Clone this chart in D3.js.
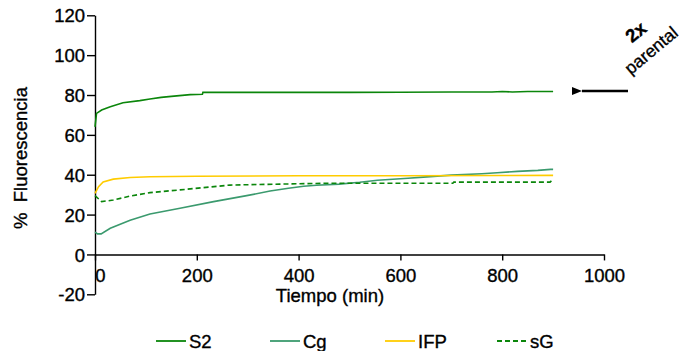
<!DOCTYPE html>
<html>
<head>
<meta charset="utf-8">
<script src="https://cdn.jsdelivr.net/npm/d3@7"></script>
<style>
  body { margin: 0; background: #fff; }
  svg text { font-family: "Liberation Sans", Arial, sans-serif; fill: #000; stroke: #000; stroke-width: 0.35px; }
</style>
</head>
<body>
<script>
/******************************************************************************/
/* DATA                                                                       */
/******************************************************************************/
var seriesNames = ['S2', 'Cg', 'IFP', 'sG'];

var s2Time = [0, 3, 13, 30, 55, 88, 108, 130, 150, 187, 211, 212, 300, 400, 500, 600, 700, 780, 800, 820, 850, 900];
var s2Vals = [64, 70.8, 72.5, 74.1, 76.1, 77.2, 78, 78.8, 79.3, 80.2, 80.4, 81.3, 81.3, 81.3, 81.3, 81.4, 81.5, 81.5, 81.8, 81.5, 81.8, 81.8];

var cgTime = [0, 5, 12, 30, 69, 108, 167, 233, 298, 344, 380, 410, 435, 480, 520, 555, 585, 615, 645, 700, 760, 790, 830, 870, 895, 900];
var cgVals = [11.2, 10.3, 10.3, 13.1, 17.2, 20.3, 23.2, 26.5, 29.5, 31.8, 33.2, 34.2, 34.7, 35.3, 36.2, 37.2, 37.7, 38.2, 38.8, 39.8, 40.5, 41, 41.7, 42.2, 42.7, 42.7];

var ifpTime = [0, 7, 16, 36, 69, 108, 200, 400, 600, 800, 900];
var ifpVals = [30.6, 34, 36.4, 37.8, 38.6, 39, 39.2, 39.5, 39.5, 39.6, 39.7];

var sgTime = [0, 13, 36, 69, 108, 167, 265, 363, 450, 703, 705, 894, 897, 900];
var sgVals = [29.5, 26.5, 27.3, 29.3, 31, 32.4, 34.8, 35.3, 35.7, 35.7, 36.3, 36.3, 37, 37];

var xTicks = [0, 200, 400, 600, 800, 1000];
var yTicks = [-20, 0, 20, 40, 60, 80, 100, 120];
var parentalLevel = 82;

/******************************************************************************/
/* GLOBAL                                                                     */
/******************************************************************************/
var width  = 683;
var height = 351;
var font   = '18.5px';

var colors = { S2: '#0b860b', Cg: '#3b9a6e', IFP: '#ffcc00', sG: '#0b860b' };
var dashes = { S2: null, Cg: null, IFP: null, sG: '5,3' };

var series = [
  { name: 'S2',  time: s2Time,  vals: s2Vals },
  { name: 'Cg',  time: cgTime,  vals: cgVals },
  { name: 'IFP', time: ifpTime, vals: ifpVals },
  { name: 'sG',  time: sgTime,  vals: sgVals }
];

var x = d3.scaleLinear().domain([0, 1000]).range([95, 604]);
var y = d3.scaleLinear().domain([-20, 120]).range([294.3, 15.3]);
var plain = function(d) { return String(d); };  // "-20", "1000"

/******************************************************************************/
/* CHART                                                                      */
/******************************************************************************/
var svg = d3.select('body')
  .append('svg')
  .attr('width', width)
  .attr('height', height);

// Y AXIS
var yAxis = svg.append('g')
  .attr('transform', 'translate(' + x(0) + ',0)')
  .call(d3.axisLeft(y).tickValues(yTicks).tickFormat(plain)
    .tickSize(8).tickSizeOuter(0).tickPadding(2));
yAxis.selectAll('text').style('font-size', font).attr('dy', '0.36em');

// X AXIS
var xAxis = svg.append('g')
  .attr('transform', 'translate(0,' + y(0) + ')')
  .call(d3.axisBottom(x).tickValues(xTicks).tickFormat(plain)
    .tickSize(6).tickSizeOuter(0).tickPadding(8));
xAxis.selectAll('text').style('font-size', font);
xAxis.selectAll('.tick').filter(function(d) { return d === 0; })
  .select('text').attr('dx', 5);

svg.selectAll('.domain, .tick line').attr('stroke', '#000').attr('stroke-width', 1.4);

// AXIS TITLES
svg.append('text')
  .attr('x', 330).attr('y', 302)
  .attr('text-anchor', 'middle')
  .style('font-size', font)
  .text('Tiempo (min)');

svg.append('text')
  .attr('transform', 'translate(27,158) rotate(-90)')
  .attr('text-anchor', 'middle')
  .style('font-size', font)
  .style('white-space', 'pre')
  .text('%  Fluorescencia');

// LINES
var line = d3.line()
  .x(function(d) { return x(d[0]); })
  .y(function(d) { return y(d[1]); });

svg.selectAll('path.series')
  .data(series)
  .enter()
  .append('path')
  .attr('class', 'series')
  .attr('fill', 'none')
  .attr('stroke', function(d) { return colors[d.name]; })
  .attr('stroke-width', 1.6)
  .attr('stroke-dasharray', function(d) { return dashes[d.name]; })
  .attr('d', function(d) { return line(d3.zip(d.time, d.vals)); });

// ANNOTATION: 2x parental
svg.append('defs').append('marker')
  .attr('id', 'head')
  .attr('viewBox', '0 0 10 8')
  .attr('refX', 0).attr('refY', 4)
  .attr('markerWidth', 10).attr('markerHeight', 8)
  .attr('markerUnits', 'userSpaceOnUse')
  .attr('orient', 'auto')
  .append('path')
  .attr('d', 'M10,0 L0,4 L10,8 Z')
  .attr('fill', '#000');

svg.append('line')
  .attr('x1', 628).attr('x2', 582)
  .attr('y1', y(parentalLevel)).attr('y2', y(parentalLevel))
  .attr('stroke', '#000').attr('stroke-width', 2.5)
  .attr('marker-end', 'url(#head)');

svg.append('text')
  .attr('transform', 'translate(640,37) rotate(-40)')
  .attr('text-anchor', 'middle')
  .style('font-size', font).style('font-weight', 'bold')
  .text('2x');

svg.append('text')
  .attr('transform', 'translate(655,55) rotate(-40)')
  .attr('text-anchor', 'middle')
  .style('font-size', '17.5px')
  .text('parental');

// LEGEND
var legendX = [156, 270, 385, 497];
var legend = svg.selectAll('g.legend')
  .data(series)
  .enter()
  .append('g')
  .attr('class', 'legend')
  .attr('transform', function(d, i) { return 'translate(' + legendX[i] + ',341)'; });

legend.append('line')
  .attr('x1', 0).attr('x2', 30)
  .attr('stroke', function(d) { return colors[d.name]; })
  .attr('stroke-width', 1.8)
  .attr('stroke-dasharray', function(d) { return dashes[d.name]; });

legend.append('text')
  .attr('x', 33).attr('y', 7)
  .style('font-size', font)
  .text(function(d) { return d.name; });
</script>
</body>
</html>
